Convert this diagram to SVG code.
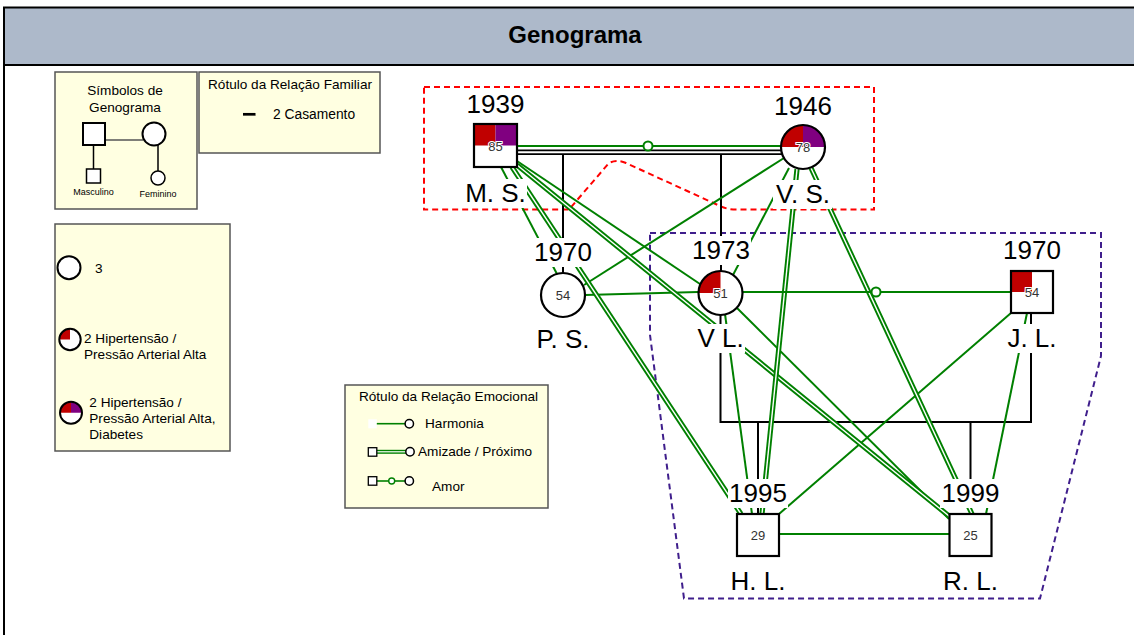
<svg xmlns="http://www.w3.org/2000/svg" width="1134" height="635" viewBox="0 0 1134 635">
<defs>
<style>
text{font-family:"Liberation Sans",Arial,sans-serif;fill:#000}
.lg{fill:#FFFFE1;stroke:#555;stroke-width:1.5}
.lt{font-size:13.6px}
.nm{font-size:26px;text-anchor:middle}
.age{font-size:13px;text-anchor:middle;fill:#333;stroke:#fff;stroke-width:2;paint-order:stroke}
.bg{fill:#fff}
.sh{fill:#fff;stroke:#000;stroke-width:2.2}
.ol{fill:none;stroke:#000;stroke-width:2.2}
.g1{fill:none;stroke:#008000;stroke-width:2}
.g2o{fill:none;stroke:#008000;stroke-width:5.2}
.g2i{fill:none;stroke:#fff;stroke-width:1.4}
.amc{fill:#fff;stroke:#008000;stroke-width:2}
.bk{fill:none;stroke:#000;stroke-width:2}
.red{fill:#C00000}
.pur{fill:#800080}
</style>
</defs>
<rect x="0" y="0" width="1134" height="635" fill="#fff"/>
<rect x="4" y="7.5" width="1140" height="57.5" fill="#ADB9CA" stroke="#000" stroke-width="2"/>
<line x1="4" y1="65" x2="4" y2="640" stroke="#000" stroke-width="2"/>
<text x="575" y="43" font-size="24" font-weight="bold" text-anchor="middle">Genograma</text>

<g id="legend-symbols">
<rect class="lg" x="55" y="72" width="142" height="137"/>
<text class="lt" x="125" y="95" text-anchor="middle">Símbolos de</text>
<text class="lt" x="125" y="111.5" text-anchor="middle">Genograma</text>
<line x1="105" y1="140" x2="143" y2="140" stroke="#555" stroke-width="1.5"/>
<line x1="93.5" y1="145" x2="93.5" y2="169" stroke="#000" stroke-width="1.5"/>
<line x1="158" y1="145" x2="158" y2="171" stroke="#000" stroke-width="1.5"/>
<rect x="83" y="123" width="22" height="22" fill="#fff" stroke="#000" stroke-width="2"/>
<circle cx="154" cy="134" r="11.5" fill="#fff" stroke="#000" stroke-width="2"/>
<rect x="86.5" y="169" width="14" height="14" fill="#fff" stroke="#000" stroke-width="1.5"/>
<circle cx="158" cy="178" r="7" fill="#fff" stroke="#000" stroke-width="1.5"/>
<text x="93.5" y="195" font-size="9" text-anchor="middle">Masculino</text>
<text x="158" y="197" font-size="9" text-anchor="middle">Feminino</text>
</g>

<g id="legend-family">
<rect class="lg" x="199" y="72" width="181" height="81"/>
<text class="lt" x="290" y="88.5" text-anchor="middle">Rótulo da Relação Familiar</text>
<line x1="243" y1="114.3" x2="255.5" y2="114.3" stroke="#000" stroke-width="2.7"/>
<text x="273" y="119.3" font-size="13.8">2 Casamento</text>
</g>

<g id="legend-conditions">
<rect class="lg" x="55" y="224" width="175" height="227"/>
<circle cx="69" cy="267.7" r="11.5" fill="#fff" stroke="#000" stroke-width="2"/>
<text class="lt" x="95" y="272.7">3</text>
<circle cx="70" cy="339.5" r="10.7" fill="#fff"/>
<path class="red" d="M70,339.5 L59.3,339.5 A10.7,10.7 0 0 1 70,328.8 Z"/>
<circle cx="70" cy="339.5" r="10.7" fill="none" stroke="#000" stroke-width="2"/>
<text class="lt" x="84" y="343.3">2 Hipertensão /</text>
<text class="lt" x="84" y="359.3">Pressão Arterial Alta</text>
<circle cx="71" cy="412.7" r="11" fill="#fff"/>
<path class="red" d="M71,412.7 L60,412.7 A11,11 0 0 1 71,401.7 Z"/>
<path class="pur" d="M71,412.7 L71,401.7 A11,11 0 0 1 82,412.7 Z"/>
<circle cx="71" cy="412.7" r="11" fill="none" stroke="#000" stroke-width="2"/>
<text class="lt" x="89.3" y="406.7">2 Hipertensão /</text>
<text class="lt" x="89.3" y="422.7">Pressão Arterial Alta,</text>
<text class="lt" x="89.3" y="438.5">Diabetes</text>
</g>

<g id="legend-emotional">
<rect class="lg" x="345" y="385" width="203" height="123"/>
<text class="lt" x="448.5" y="400.7" text-anchor="middle">Rótulo da Relação Emocional</text>
<rect x="368.3" y="419.3" width="8.5" height="9" fill="#fff"/>
<line x1="376.8" y1="423.7" x2="405.3" y2="423.7" stroke="#008000" stroke-width="1.6"/>
<circle cx="409.3" cy="423.7" r="4.2" fill="#fff" stroke="#000" stroke-width="1.5"/>
<text class="lt" x="425" y="428">Harmonia</text>
<line x1="376.8" y1="451.8" x2="406" y2="451.8" stroke="#008000" stroke-width="4"/>
<line x1="376.8" y1="451.8" x2="406" y2="451.8" stroke="#fff" stroke-width="1.2"/>
<rect x="368.3" y="447.7" width="8.5" height="8.5" fill="#fff" stroke="#000" stroke-width="1.3"/>
<circle cx="410" cy="451.8" r="4.2" fill="#fff" stroke="#000" stroke-width="1.5"/>
<text class="lt" x="418" y="456.3">Amizade / Próximo</text>
<line x1="376.8" y1="481" x2="405.3" y2="481" stroke="#008000" stroke-width="1.6"/>
<rect x="368.3" y="476.7" width="8.5" height="8.5" fill="#fff" stroke="#000" stroke-width="1.3"/>
<circle cx="391.7" cy="481" r="3" fill="#fff" stroke="#008000" stroke-width="1.4"/>
<circle cx="409.3" cy="481" r="4.2" fill="#fff" stroke="#000" stroke-width="1.5"/>
<text class="lt" x="432" y="491">Amor</text>
</g>

<g id="groups">
<path d="M424,87 H874 V209.5 H736 Q727,209.5 720,206 L626,163 Q617,159 609,163 L569,209.5 H424 Z" fill="none" stroke="#FF0000" stroke-width="2" stroke-dasharray="6 4"/>
<path d="M650,233 H1101 V356 L1040,598.5 H684 L650,335 Z" fill="none" stroke="#3F1E8C" stroke-width="2" stroke-dasharray="6 4"/>
</g>

<g id="connectors">
<!-- family lines -->
<line x1="517" y1="152.3" x2="782" y2="152.3" stroke="#000" stroke-width="5.6"/>
<line x1="517" y1="152.3" x2="782" y2="152.3" stroke="#fff" stroke-width="2"/>
<line class="bk" x1="563" y1="154" x2="563" y2="273"/>
<line class="bk" x1="721" y1="154" x2="721" y2="271"/>
<polyline class="bk" points="720.5,315 720.5,422 1031,422 1031,313"/>
<line class="bk" x1="758" y1="422" x2="758" y2="514"/>
<line class="bk" x1="970.5" y1="422" x2="970.5" y2="514"/>
<!-- emotional: harmony (single) -->
<path class="g1" d="M501,167 L557,274"/>
<path class="g1" d="M517,161 L700,284"/>
<path class="g1" d="M784,158 L584,285"/>
<path class="g1" d="M789,168 L733,275"/>
<path class="g1" d="M585,295 L698,292"/>
<path class="g1" d="M725,314 L752,514"/>
<path class="g1" d="M737,308 L949,519"/>
<path class="g1" d="M1011,313 L779,514"/>
<path class="g1" d="M1027,313 L986,514"/>
<path class="g1" d="M779,534 H949"/>
<!-- friendship (double) -->
<path class="g2o" d="M512,167 L741,514"/>
<path class="g2i" d="M512,167 L741,514"/>
<path class="g2o" d="M517,165 L949,516"/>
<path class="g2i" d="M517,165 L949,516"/>
<path class="g2o" d="M797,169 L762,514"/>
<path class="g2i" d="M797,169 L762,514"/>
<path class="g2o" d="M811,168 L972,514"/>
<path class="g2i" d="M811,168 L972,514"/>
<!-- love -->
<path class="g1" d="M517,146 H781"/>
<circle class="amc" cx="648" cy="146" r="4.5"/>
<path class="g1" d="M742,292 H1011"/>
<circle class="amc" cx="876" cy="292" r="4.5"/>
</g>

<g id="node-MS">
<rect x="474" y="124" width="43" height="43" fill="#fff"/>
<rect class="red" x="474" y="124" width="21.5" height="21.5"/>
<rect class="pur" x="495.5" y="124" width="21.5" height="21.5"/>
<rect class="ol" x="474" y="124" width="43" height="43"/>
<text class="age" x="495.5" y="151">85</text>
<rect class="bg" x="466" y="90" width="59" height="29"/>
<text class="nm" x="495.5" y="113">1939</text>
<rect class="bg" x="464" y="179" width="63" height="29"/>
<text class="nm" x="495.5" y="202">M. S.</text>
</g>

<g id="node-VS">
<circle cx="803" cy="147" r="22" fill="#fff"/>
<path class="red" d="M803,147 L781,147 A22,22 0 0 1 803,125 Z"/>
<path class="pur" d="M803,147 L803,125 A22,22 0 0 1 825,147 Z"/>
<circle class="ol" cx="803" cy="147" r="22"/>
<text class="age" x="803" y="152">78</text>
<rect class="bg" x="773" y="92" width="60" height="29"/>
<text class="nm" x="803" y="115">1946</text>
<rect class="bg" x="773" y="180" width="59" height="29"/>
<text class="nm" x="803" y="203">V. S.</text>
</g>

<g id="node-PS">
<circle class="sh" cx="563" cy="295" r="22"/>
<text class="age" x="563" y="300">54</text>
<rect class="bg" x="533" y="238" width="60" height="29"/>
<text class="nm" x="563" y="261">1970</text>
<rect class="bg" x="534" y="325" width="59" height="29"/>
<text class="nm" x="563" y="348">P. S.</text>
</g>

<g id="node-VL">
<circle cx="720.5" cy="293" r="22" fill="#fff"/>
<path class="red" d="M720.5,293 L698.5,293 A22,22 0 0 1 720.5,271 Z"/>
<circle class="ol" cx="720.5" cy="293" r="22"/>
<text class="age" x="720.5" y="298">51</text>
<rect class="bg" x="691" y="236" width="60" height="29"/>
<text class="nm" x="721" y="259">1973</text>
<rect class="bg" x="696" y="324" width="49" height="29"/>
<text class="nm" x="720.5" y="347">V L.</text>
</g>

<g id="node-JL">
<rect x="1011" y="271" width="42" height="42" fill="#fff"/>
<rect class="red" x="1011" y="271" width="21" height="21"/>
<rect class="ol" x="1011" y="271" width="42" height="42"/>
<text class="age" x="1032" y="297">54</text>
<rect class="bg" x="1002" y="236" width="60" height="29"/>
<text class="nm" x="1032" y="259">1970</text>
<rect class="bg" x="1006" y="324" width="52" height="29"/>
<text class="nm" x="1032" y="347">J. L.</text>
</g>

<g id="node-HL">
<rect class="sh" x="737" y="514" width="42" height="42"/>
<text class="age" x="758" y="540">29</text>
<rect class="bg" x="728" y="479" width="60" height="29"/>
<text class="nm" x="758" y="502">1995</text>
<rect class="bg" x="729" y="567" width="58" height="29"/>
<text class="nm" x="758" y="590">H. L.</text>
</g>

<g id="node-RL">
<rect class="sh" x="949.5" y="514" width="42" height="42"/>
<text class="age" x="970.5" y="540">25</text>
<rect class="bg" x="940" y="479" width="61" height="29"/>
<text class="nm" x="970.5" y="502">1999</text>
<rect class="bg" x="941" y="567" width="59" height="29"/>
<text class="nm" x="970.5" y="590">R. L.</text>
</g>
</svg>
